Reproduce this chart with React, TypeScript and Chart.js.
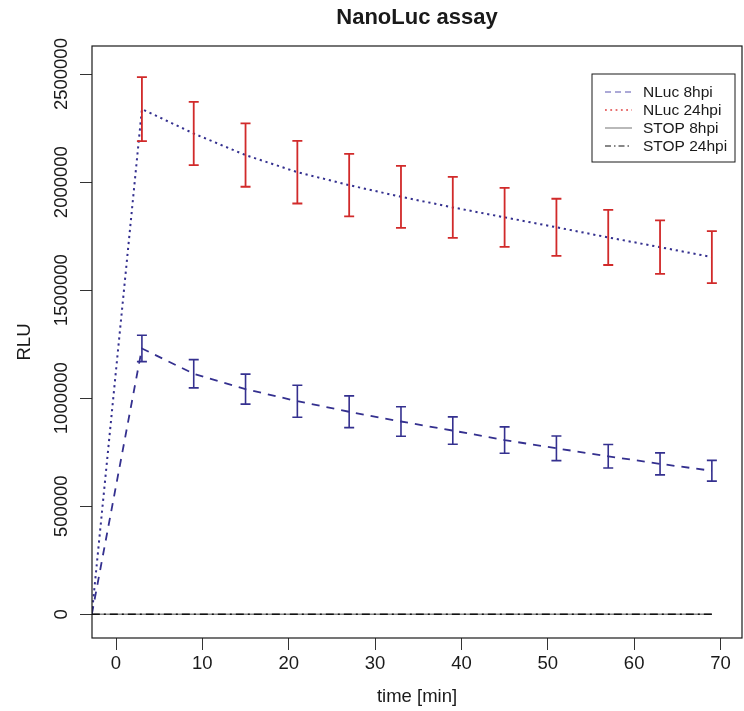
import React, { useEffect, useRef } from 'react';
import { Chart, registerables } from 'chart.js';

Chart.register(...registerables);

const FONT = "'Liberation Sans', Arial, Helvetica, sans-serif";

const TITLE = 'NanoLuc assay';
const X_TITLE = 'time [min]';
const Y_TITLE = 'RLU';

const timeMin = [-2.8, 3, 9, 15, 21, 27, 33, 39, 45, 51, 57, 63, 69];

const nluc8hpi = [0, 1230000, 1113000, 1042000, 986000, 937000, 892000, 850000, 806000, 768000, 731000, 696000, 664000];
const nluc8hpiErr = [0, 61000, 65500, 69500, 74000, 73500, 68000, 63500, 61000, 57000, 54500, 51000, 48000];

const nluc24hpi = [0, 2338000, 2225000, 2125000, 2046000, 1986000, 1932000, 1883000, 1837000, 1791000, 1744000, 1699000, 1653000];
const nluc24hpiErr = [0, 148000, 146500, 146500, 145000, 145000, 143500, 141000, 136500, 132000, 127500, 124000, 120500];

const stop8hpi = [0, 0, 0, 0, 0, 0, 0, 0, 0, 0, 0, 0, 0];
const stop24hpi = [0, 0, 0, 0, 0, 0, 0, 0, 0, 0, 0, 0, 0];

const seriesLabels = ['NLuc 8hpi', 'NLuc 24hpi', 'STOP 8hpi', 'STOP 24hpi'];

const xTickValues = [0, 10, 20, 30, 40, 50, 60, 70];
const yTickValues = [0, 500000, 1000000, 1500000, 2000000, 2500000];

const BLUE = '#34308f';
const RED = '#d12a2a';
const GRAY = '#8a8a8a';
const BLACK = '#111111';

const legendStyles = [
  { color: '#5a55b0', dash: [6, 4], width: 1.2 },
  { color: '#e04040', dash: [1.8, 3.5], width: 1.4 },
  { color: GRAY, dash: [], width: 1.2 },
  { color: BLACK, dash: [6, 3, 1.5, 3], width: 1.2 },
];

const errorSeries = [
  { values: nluc8hpi, err: nluc8hpiErr, color: BLUE, width: 1.6 },
  { values: nluc24hpi, err: nluc24hpiErr, color: RED, width: 1.8 },
];

const CAP = 5;

const toPoints = (vals: number[]) => timeMin.map((t, i) => ({ x: t, y: vals[i] }));

const errorBarPlugin = {
  id: 'errorBars',
  afterDatasetsDraw(chart: any) {
    const { ctx, chartArea, scales } = chart;
    const xs = scales.x;
    const ys = scales.y;
    ctx.save();
    ctx.beginPath();
    ctx.rect(chartArea.left, chartArea.top, chartArea.right - chartArea.left, chartArea.bottom - chartArea.top);
    ctx.clip();
    errorSeries.forEach((s) => {
      ctx.strokeStyle = s.color;
      ctx.lineWidth = s.width;
      ctx.setLineDash([]);
      timeMin.forEach((t, i) => {
        const e = s.err[i];
        if (!e) return;
        const px = xs.getPixelForValue(t);
        const top = ys.getPixelForValue(s.values[i] + e);
        const bot = ys.getPixelForValue(s.values[i] - e);
        ctx.beginPath();
        ctx.moveTo(px, top);
        ctx.lineTo(px, bot);
        ctx.moveTo(px - CAP, top);
        ctx.lineTo(px + CAP, top);
        ctx.moveTo(px - CAP, bot);
        ctx.lineTo(px + CAP, bot);
        ctx.stroke();
      });
    });
    ctx.restore();
  },
};

const frameAndLabelsPlugin = {
  id: 'frameAndLabels',
  afterDraw(chart: any) {
    const { ctx, chartArea, scales } = chart;
    const ys = scales.y;
    ctx.save();
    ctx.strokeStyle = '#1a1a1a';
    ctx.lineWidth = 1.2;
    ctx.setLineDash([]);
    ctx.strokeRect(chartArea.left, chartArea.top, chartArea.right - chartArea.left, chartArea.bottom - chartArea.top);

    ctx.fillStyle = '#1a1a1a';
    ctx.font = `18.5px ${FONT}`;
    ctx.textAlign = 'center';
    ctx.textBaseline = 'middle';
    yTickValues.forEach((v) => {
      const py = ys.getPixelForValue(v);
      ctx.save();
      ctx.translate(chartArea.left - 30, py);
      ctx.rotate(-Math.PI / 2);
      ctx.fillText(String(v), 0, 0);
      ctx.restore();
    });

    const boxRight = chartArea.right - 7;
    const boxLeft = boxRight - 143;
    const boxTop = chartArea.top + 28;
    const rowH = 18;
    const boxBottom = boxTop + 18 + rowH * 3 + 16;
    ctx.fillStyle = '#ffffff';
    ctx.fillRect(boxLeft, boxTop, boxRight - boxLeft, boxBottom - boxTop);
    ctx.strokeStyle = '#1a1a1a';
    ctx.lineWidth = 1;
    ctx.strokeRect(boxLeft, boxTop, boxRight - boxLeft, boxBottom - boxTop);
    ctx.font = `15.5px ${FONT}`;
    ctx.textAlign = 'left';
    ctx.textBaseline = 'middle';
    seriesLabels.forEach((label, i) => {
      const cy = boxTop + 18 + i * rowH;
      const st = legendStyles[i];
      ctx.strokeStyle = st.color;
      ctx.lineWidth = st.width;
      ctx.setLineDash(st.dash);
      ctx.beginPath();
      ctx.moveTo(boxLeft + 13, cy);
      ctx.lineTo(boxLeft + 40, cy);
      ctx.stroke();
      ctx.setLineDash([]);
      ctx.fillStyle = '#1a1a1a';
      ctx.fillText(label, boxLeft + 51, cy + 1);
    });
    ctx.restore();
  },
};

export default function App() {
  const canvasRef = useRef<HTMLCanvasElement | null>(null);

  useEffect(() => {
    document.body.style.margin = '0';
    const canvas = canvasRef.current;
    if (!canvas) return;
    Chart.defaults.font.family = FONT;
    Chart.defaults.color = '#1a1a1a';

    const chart = new Chart(canvas, {
      type: 'line',
      data: {
        datasets: [
          {
            label: seriesLabels[0],
            data: toPoints(nluc8hpi),
            borderColor: BLUE,
            borderWidth: 1.8,
            borderDash: [8, 7],
            pointRadius: 0,
            fill: false,
            tension: 0,
            order: 2,
          },
          {
            label: seriesLabels[1],
            data: toPoints(nluc24hpi),
            borderColor: BLUE,
            borderWidth: 2,
            borderDash: [2.2, 3.8],
            pointRadius: 0,
            fill: false,
            tension: 0,
            order: 2,
          },
          {
            label: seriesLabels[2],
            data: toPoints(stop8hpi),
            borderColor: GRAY,
            borderWidth: 1.6,
            borderDash: [],
            pointRadius: 0,
            fill: false,
            tension: 0,
            order: 3,
          },
          {
            label: seriesLabels[3],
            data: toPoints(stop24hpi),
            borderColor: BLACK,
            borderWidth: 1.6,
            borderDash: [8, 4, 2, 4],
            pointRadius: 0,
            fill: false,
            tension: 0,
            order: 1,
          },
        ],
      },
      options: {
        responsive: false,
        animation: false,
        layout: { padding: { top: 0, right: 2, bottom: 0, left: 0 } },
        plugins: {
          legend: { display: false },
          tooltip: { enabled: false },
          title: {
            display: true,
            text: TITLE,
            fullSize: false,
            color: '#1a1a1a',
            font: { size: 22, weight: 'bold', family: FONT, lineHeight: 1.2 },
            padding: { top: 5, bottom: 14.6 },
          },
        },
        scales: {
          x: {
            type: 'linear',
            min: -2.78,
            max: 72.49,
            afterBuildTicks: (scale: any) => {
              scale.ticks = xTickValues.map((v) => ({ value: v }));
            },
            afterFit: (scale: any) => {
              scale.height = 73;
            },
            ticks: {
              color: '#1a1a1a',
              font: { size: 18.5, family: FONT },
              padding: 3,
              maxRotation: 0,
              minRotation: 0,
              autoSkip: false,
              callback: (v: any) => String(v),
            },
            grid: {
              drawOnChartArea: false,
              drawTicks: true,
              tickLength: 12,
              color: '#333333',
              lineWidth: 1,
            },
            border: { display: false },
            title: {
              display: true,
              text: X_TITLE,
              color: '#1a1a1a',
              font: { size: 18.5, family: FONT },
              padding: { top: 0, bottom: 3 },
            },
          },
          y: {
            type: 'linear',
            min: -110000,
            max: 2630000,
            afterBuildTicks: (scale: any) => {
              scale.ticks = yTickValues.map((v) => ({ value: v }));
            },
            afterFit: (scale: any) => {
              scale.width = 92;
            },
            ticks: { display: false },
            grid: {
              drawOnChartArea: false,
              drawTicks: true,
              tickLength: 12,
              color: '#333333',
              lineWidth: 1,
            },
            border: { display: false },
            title: {
              display: true,
              text: Y_TITLE,
              color: '#1a1a1a',
              font: { size: 18.5, family: FONT },
              padding: { top: 14, bottom: 0 },
            },
          },
        },
      },
      plugins: [errorBarPlugin, frameAndLabelsPlugin],
    } as any);

    return () => chart.destroy();
  }, []);

  return (
    <div style={{ position: 'absolute', left: 0, top: 0, width: 744, height: 711, background: '#fff' }}>
      <canvas ref={canvasRef} width={744} height={711} style={{ display: 'block', width: 744, height: 711 }} />
    </div>
  );
}
